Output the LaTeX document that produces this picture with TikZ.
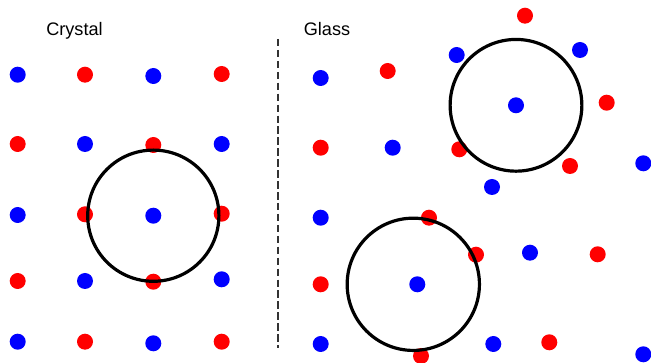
\documentclass[tikz,border=0pt]{standalone}
\usepackage{fontspec}
\setmainfont{Liberation Sans}
\usepackage{tikz}
\usetikzlibrary{positioning}

\begin{document}
\begin{tikzpicture}[x=0.75pt, y=-0.75pt,
  font=\fontsize{13.6}{16}\selectfont,
  atom/.style={circle, inner sep=0pt, minimum size=12pt},
  ion/.style={atom, fill=red},
  anion/.style={atom, fill=blue},
  shell/.style={draw=black, line width=2.4pt},
  title/.style={anchor=base, inner sep=0pt}]
\useasboundingbox (0,0) rectangle (651,363);
\clip (0,0) rectangle (651,363);
% crystal lattice
\node[title] (crystal) at (74.5,36) {Crystal};
\node[anion] (c11) at (17.7,74.7)  {};
\node[ion]   (c12) at (85,74.7)    {};
\node[anion] (c13) at (153.3,76)   {};
\node[ion]   (c14) at (221.7,74)   {};
\node[ion]   (c21) at (17.7,144)   {};
\node[anion] (c22) at (85,144)     {};
\node[ion]   (c23) at (153.3,145)  {};
\node[anion] (c24) at (221.7,144)  {};
\node[anion] (c31) at (17.7,215)   {};
\node[ion]   (c32) at (85,214.3)   {};
\node[anion] (c33) at (153.3,215.7) {};
\node[ion]   (c34) at (221.7,213.7) {};
\node[ion]   (c41) at (17.7,281)   {};
\node[anion] (c42) at (85,281)     {};
\node[ion]   (c43) at (153.3,281.7) {};
\node[anion] (c44) at (221.7,279.3) {};
\node[anion] (c51) at (17.7,341.7) {};
\node[ion]   (c52) at (85,341.7)   {};
\node[anion] (c53) at (153.3,343.3) {};
\node[ion]   (c54) at (221.7,341.7) {};
\draw[shell] (c33.center) circle[radius=49.2pt];
% divider
\coordinate (divtop) at (278,39);
\coordinate (divbot) at (278,348);
\draw[black!80, line width=1.7pt, dash pattern=on 5.6pt off 2.6pt] (divtop) -- (divbot);
% glass
\node[title] (glass) at (327,36) {Glass};
\node[ion]   (g1)  at (525,15.7)   {};
\node[anion] (g2)  at (456.7,55)   {};
\node[anion] (g3)  at (580,50)     {};
\node[anion] (g4)  at (320.7,78)   {};
\node[ion]   (g5)  at (387.7,71)   {};
\node[anion] (g6)  at (516,105.3)  {};
\node[ion]   (g7)  at (606.7,102.7) {};
\node[ion]   (g8)  at (320.7,147.7) {};
\node[anion] (g9)  at (392.7,147.7) {};
\node[ion]   (g10) at (459.3,149.3) {};
\node[ion]   (g11) at (570,166)    {};
\node[anion] (g12) at (643.3,163.3) {};
\node[anion] (g13) at (492,187)    {};
\node[anion] (g14) at (320.7,217.7) {};
\node[ion]   (g15) at (429,217.7)  {};
\node[ion]   (g16) at (476,254.7)  {};
\node[anion] (g17) at (530,252.7)  {};
\node[ion]   (g18) at (597.7,254.3) {};
\node[ion]   (g19) at (320.7,284.3) {};
\node[anion] (g20) at (417.3,284.3) {};
\node[anion] (g21) at (320.7,344)  {};
\node[ion]   (g22) at (421,356)    {};
\node[anion] (g23) at (493.3,344)  {};
\node[ion]   (g24) at (549.3,342.3) {};
\node[anion] (g25) at (643.3,354.3) {};
\draw[shell] (g6.center) circle[radius=49.4pt];
\draw[shell] ([xshift=-3pt]g20.center) circle[radius=49.6pt];
\end{tikzpicture}
\end{document}
